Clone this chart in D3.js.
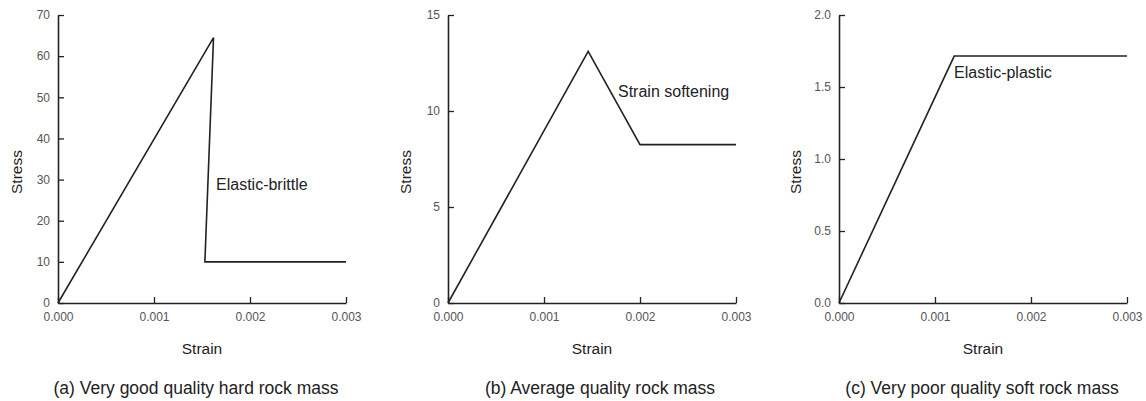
<!DOCTYPE html>
<html>
<head>
<meta charset="utf-8">
<script src="https://cdn.jsdelivr.net/npm/d3@7"></script>
<style>
  body { margin: 0; background: #fff; }
  svg { display: block; font-family: "Liberation Sans", Arial, sans-serif; }
</style>
</head>
<body>
<svg id="chart" width="1146" height="401"></svg>
<script>
// strain ticks shared by all three panels
var strainTicks = [0, 0.001, 0.002, 0.003];

// (a) elastic-brittle
var strainA = [0, 0.00162, 0.00153, 0.003];
var stressA = [0, 64.5, 10, 10];
var stressTicksA = [0, 10, 20, 30, 40, 50, 60, 70];

// (b) strain softening
var strainB = [0, 0.00146, 0.002, 0.003];
var stressB = [0, 13.1, 8.25, 8.25];
var stressTicksB = [0, 5, 10, 15];

// (c) elastic-plastic
var strainC = [0, 0.0012, 0.003];
var stressC = [0, 1.715, 1.715];
var stressTicksC = [0, 0.5, 1, 1.5, 2];

var captions = [
  '(a) Very good quality hard rock mass',
  '(b) Average quality rock mass',
  '(c) Very poor quality soft rock mass'
];
var notes = ['Elastic-brittle', 'Strain softening', 'Elastic-plastic'];

var panels = [
  { left: 58, strain: strainA, stress: stressA, ticks: stressTicksA, max: 70, fmt: d3.format('d'),
    note: notes[0], noteAt: [216, 190], caption: captions[0], captionX: 196, stressX: 17 },
  { left: 448, strain: strainB, stress: stressB, ticks: stressTicksB, max: 15, fmt: d3.format('d'),
    note: notes[1], noteAt: [618, 97], caption: captions[1], captionX: 600, stressX: 406 },
  { left: 839, strain: strainC, stress: stressC, ticks: stressTicksC, max: 2, fmt: d3.format('.1f'),
    note: notes[2], noteAt: [954, 78], caption: captions[2], captionX: 982, stressX: 796 }
];

var plotTop = 15, plotBottom = 303, plotWidth = 288;
var svg = d3.select('#chart');
var ink = '#222';

panels.forEach(function(p) {
  var x = d3.scaleLinear().domain([0, 0.003]).range([p.left, p.left + plotWidth]);
  var y = d3.scaleLinear().domain([0, p.max]).range([plotBottom, plotTop]);

  var g = svg.append('g');

  var xAxis = g.append('g')
    .attr('transform', 'translate(0,' + plotBottom + ')')
    .call(d3.axisBottom(x).tickValues(strainTicks).tickFormat(d3.format('.3f'))
      .tickSizeInner(-6).tickSizeOuter(0).tickPadding(9));

  var yAxis = g.append('g')
    .attr('transform', 'translate(' + p.left + ',0)')
    .call(d3.axisLeft(y).tickValues(p.ticks).tickFormat(p.fmt)
      .tickSizeInner(-6).tickSizeOuter(0).tickPadding(8));

  [xAxis, yAxis].forEach(function(a) {
    a.select('.domain').attr('stroke', ink).attr('stroke-width', 1.6);
    a.selectAll('.tick line').attr('stroke', ink).attr('stroke-width', 1.3);
    a.selectAll('.tick text')
      .attr('fill', '#555')
      .style('font-size', '12px')
      .style('font-family', '"Liberation Sans", Arial, sans-serif');
  });

  var pts = p.strain.map(function(s, i) { return [s, p.stress[i]]; });
  g.append('path')
    .datum(pts)
    .attr('fill', 'none')
    .attr('stroke', ink)
    .attr('stroke-width', 1.6)
    .attr('stroke-linejoin', 'miter')
    .attr('d', d3.line().x(function(d) { return x(d[0]); }).y(function(d) { return y(d[1]); }));

  g.append('text')
    .attr('x', p.noteAt[0])
    .attr('y', p.noteAt[1])
    .attr('fill', ink)
    .style('font-size', '16px')
    .text(p.note);

  g.append('text')
    .attr('x', p.left + plotWidth / 2)
    .attr('y', 354)
    .attr('text-anchor', 'middle')
    .attr('fill', ink)
    .style('font-size', '15.5px')
    .text('Strain');

  g.append('text')
    .attr('transform', 'translate(' + (p.stressX + 5) + ',' + ((plotTop + plotBottom) / 2 + 13) + ') rotate(-90)')
    .attr('text-anchor', 'middle')
    .attr('fill', ink)
    .style('font-size', '15.5px')
    .text('Stress');

  g.append('text')
    .attr('x', p.captionX)
    .attr('y', 394)
    .attr('text-anchor', 'middle')
    .attr('fill', ink)
    .style('font-size', '17.5px')
    .text(p.caption);
});
</script>
</body>
</html>
